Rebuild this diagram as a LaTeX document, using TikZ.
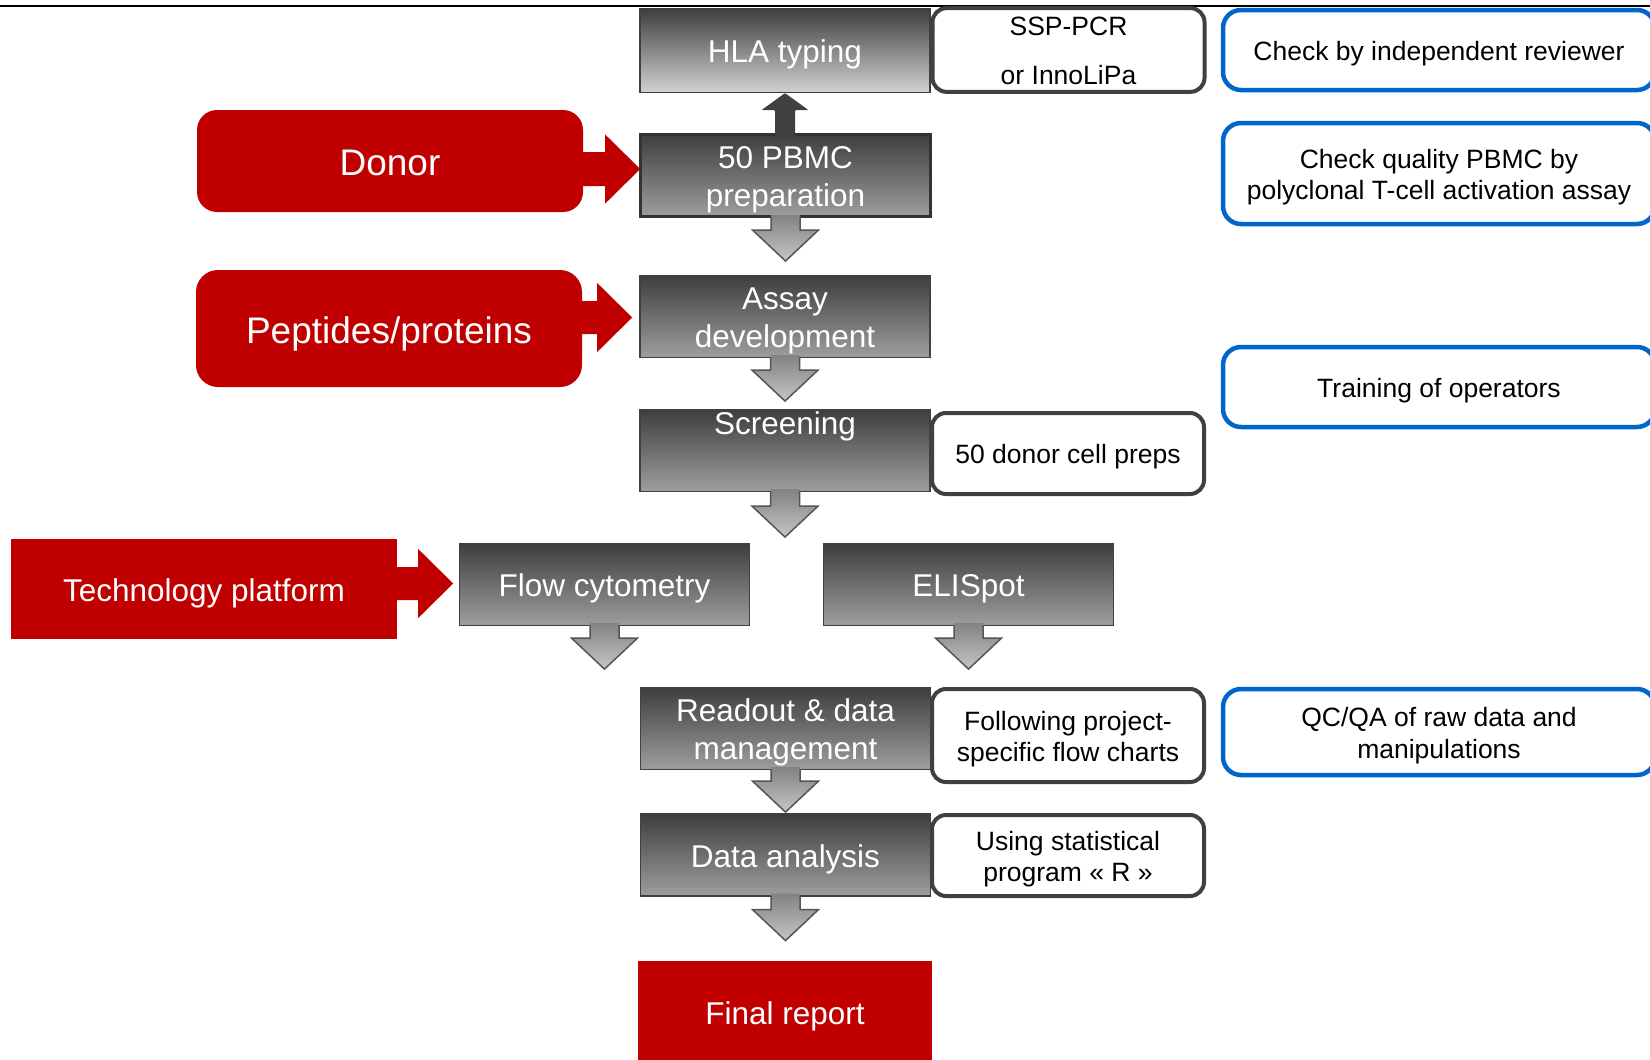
\documentclass[tikz,border=0pt]{standalone}
\usepackage{fontspec}
\setmainfont{Liberation Sans}
\usetikzlibrary{calc}
\definecolor{redc}{HTML}{C00000}
\definecolor{bluec}{HTML}{0066CC}
\definecolor{darkc}{HTML}{404040}
\definecolor{gtop}{HTML}{3E3E3E}
\definecolor{gbot}{HTML}{9E9E9E}
\definecolor{hlabot}{HTML}{D2D2D2}
\definecolor{arrtop}{HTML}{828282}
\definecolor{arrbot}{HTML}{C6C6C6}
\definecolor{arrline}{HTML}{555555}
\newcommand\tst{\rule{0pt}{1.05em}}
\newcommand\bst{\rule[-0.26em]{0pt}{0.26em}}
\tikzset{
  graybox/.style={rectangle, draw=darkc, line width=1.2pt, top color=gtop, bottom color=gbot,
    text=white, font=\fontsize{31.5}{38}\selectfont, align=center, inner sep=0pt,
    minimum width=290pt, minimum height=82pt},
  redbox/.style={rectangle, fill=redc, text=white, rounded corners=20pt, inner sep=0pt,
    align=center, font=\fontsize{37}{44}\selectfont, minimum width=386pt},
  wbox/.style={rectangle, draw=darkc, line width=4pt, fill=white, rounded corners=14pt,
    inner sep=0pt, align=center, font=\fontsize{26.5}{31.5}\selectfont,
    minimum width=272pt},
  bbox/.style={rectangle, draw=bluec, line width=4.5pt, fill=white, rounded corners=18pt,
    inner sep=0pt, align=center, font=\fontsize{26.5}{31.5}\selectfont,
    minimum width=432pt},
  arrowoutline/.style={draw=arrline, line width=1.5pt, line join=miter},
  lbl/.style={text=white, font=\fontsize{31.5}{38}\selectfont, inner sep=0pt}
}
\newcommand\grayarrowdown[2]{%
  \shade[top color=arrtop, bottom color=arrbot]
    ($(#1)+(-14.5,-3)$) -- ++(0,{#2-31+3}) -- ++(-18.5,0) -- ++(33,31)
    -- ++(33,-31) -- ++(-18.5,0) -- ++(0,{-(#2-31+3)}) -- cycle;
  \draw[arrowoutline]
    ($(#1)+(-14.5,-1)$) -- ++(0,{#2-31+1}) -- ++(-18.5,0) -- ++(33,31)
    -- ++(33,-31) -- ++(-18.5,0) -- ++(0,{-(#2-31+1)});
}
\newcommand\redblockarrow[3]{%
  \fill[redc] ($(#1)+(-2,-#3)$) -- ++({#2+2},0) -- ++(0,{-(34.5-#3)})
    -- ++(35,34.5) -- ++(-35,34.5) -- ++(0,{-(34.5-#3)}) -- ++({-#2-2},0) -- cycle;
}
\begin{document}
\begin{tikzpicture}[x=1pt,y=-1pt]
\useasboundingbox (0,0) rectangle (1650,1060);
\fill[white] (0,0) rectangle (1650,1060);
\draw[line width=2.5pt] (0,6) -- (1650,6);

% main grey column
\node[graybox, bottom color=hlabot, minimum height=84pt] (hla) at (785,50.5) {\tst HLA typing\bst};
\node[graybox, draw=black!80, line width=3pt, minimum width=290pt, minimum height=82pt] (pbmc) at (785.5,175.5) {\tst 50 PBMC\\preparation\bst};
\node[graybox] (assay) at (785,316.5) {\tst Assay\\development\bst};
\node[graybox] (screen) at (785,450.5) {};
\node[lbl] (screenlbl) at (785,422) {\tst Screening\bst};
\node[graybox] (flow) at (604.5,584.5) {\tst Flow cytometry\bst};
\node[graybox] (elis) at (968.5,584.5) {\tst ELISpot\bst};
\node[graybox] (readout) at (785.5,728.5) {\tst Readout \& data\\management\bst};
\node[graybox] (data) at (785.5,855) {\tst Data analysis\bst};

% grey block arrows
\grayarrowdown{pbmc.south}{43}
\grayarrowdown{assay.south}{43}
\grayarrowdown{screen.south}{45}
\grayarrowdown{flow.south}{43}
\grayarrowdown{elis.south}{43}
\grayarrowdown{readout.south}{42}
\grayarrowdown{data.south}{44}

% dark up arrow PBMC -> HLA
\fill[darkc, rounded corners=1pt] (hla.south) -- ++(23.5,17) -- ++(-13.5,0) -- ++(0,26)
  -- ++(-20,0) -- ++(0,-26) -- ++(-13.5,0) -- cycle;

% white side boxes
\node[wbox, minimum height=80pt, font=\fontsize{26.5}{49}\selectfont] (ssp) at (1068.5,50) {\tst SSP-PCR\\or InnoLiPa\bst};
\node[wbox, minimum height=81pt] (cellpreps) at (1068,453.5) {\tst 50 donor cell preps\bst};
\node[wbox, minimum height=93pt] (follow) at (1068,735.5) {\tst Following project-\\specific flow charts\bst};
\node[wbox, minimum height=81pt] (usingr) at (1068,855.5) {\tst Using statistical\\program « R »\bst};

% blue quality boxes
\node[bbox, minimum height=80pt] (rev) at (1439,50) {\tst Check by independent reviewer\bst};
\node[bbox, minimum height=101pt] (pbmcq) at (1439,173.5) {\tst Check quality PBMC by\\polyclonal T-cell activation assay\bst};
\node[bbox, minimum height=80pt] (train) at (1439,387) {\tst Training of operators\bst};
\node[bbox, minimum height=86pt] (qc) at (1439,732) {\tst QC/QA of raw data and\\manipulations\bst};

% red input boxes
\node[redbox, minimum height=102pt] (donor) at (390,161) {\tst Donor\bst};
\node[redbox, minimum height=117pt, rounded corners=22pt] (pept) at (389,328.5) {\tst Peptides/proteins\bst};
\node[redbox, sharp corners, minimum height=100pt, font=\fontsize{31.5}{37}\selectfont] (tech) at (204,589) {\tst Technology platform\bst};
\node[redbox, sharp corners, minimum width=294pt, minimum height=102pt, font=\fontsize{31.5}{38}\selectfont] (final) at (785,1012) {\tst Final report\bst};

% red block arrows
\coordinate (donorA) at ($(donor.east)+(0,8)$);
\coordinate (peptA) at ($(pept.east)+(0,-11)$);
\coordinate (techA) at ($(tech.east)+(0,-5.5)$);
\redblockarrow{donorA}{22}{17}
\redblockarrow{peptA}{15}{16.5}
\redblockarrow{techA}{21}{16.5}
\end{tikzpicture}
\end{document}
